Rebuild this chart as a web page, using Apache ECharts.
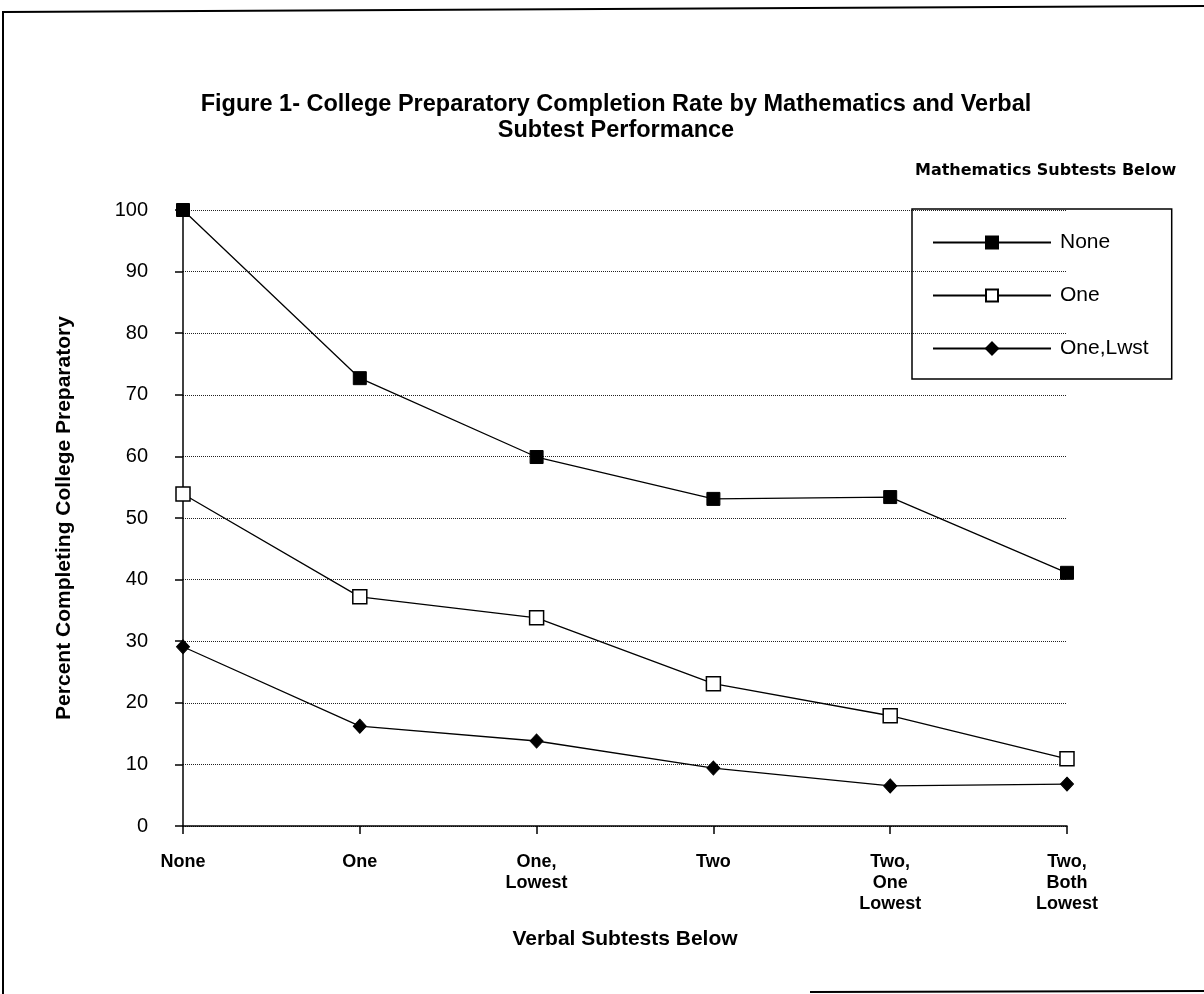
<!DOCTYPE html>
<html lang="en">
<head>
    <meta charset="UTF-8">
    <title>Figure 1</title>
    <script src="https://cdn.jsdelivr.net/npm/echarts@6/dist/echarts.min.js"></script>
    <style>
        html, body { margin: 0; padding: 0; background: #fff; }
    </style>
</head>
<body>
<div id="main" style="width: 1204px; height: 994px"></div>
</body>
<script>
    // categories along the x axis (verbal subtests below)
    let categories = ['None', 'One', 'One,\nLowest', 'Two', 'Two,\nOne\nLowest', 'Two,\nBoth\nLowest'];
    // series = mathematics subtests below
    let seriesNames = ['None', 'One', 'One,Lwst'];
    let mathNone = [100, 72.7, 59.9, 53.1, 53.4, 41.1];
    let mathOne = [53.9, 37.2, 33.8, 23.1, 17.9, 10.9];
    let mathOneLwst = [29.1, 16.2, 13.8, 9.4, 6.5, 6.8];
    let yTicks = [0, 10, 20, 30, 40, 50, 60, 70, 80, 90, 100];

    let font = 'Arial, "Liberation Sans", sans-serif';
    let myChart = echarts.init(document.getElementById('main'));

    let option = {
        backgroundColor: '#fff',
        animation: false,
        textStyle: { fontFamily: font, color: '#000' },
        title: {
            text: 'Figure 1- College Preparatory Completion Rate by Mathematics and Verbal\nSubtest Performance',
            left: 611,
            top: 87,
            textAlign: 'center',
            textStyle: { fontSize: 23.5, fontWeight: 'bold', lineHeight: 26, fontFamily: font, color: '#000' }
        },
        graphic: [
            { // scanned page frame: top, left and a piece of the bottom
                type: 'polyline',
                shape: { points: [[1204, 6], [3, 12], [3, 994]] },
                style: { fill: 'none', stroke: '#000', lineWidth: 2 }
            },
            {
                type: 'line',
                shape: { x1: 810, y1: 992, x2: 1204, y2: 991 },
                style: { stroke: '#000', lineWidth: 2 }
            },
            {
                type: 'text',
                left: 915,
                top: 163,
                style: { text: 'Mathematics Subtests Below', font: 'bold 16px "DejaVu Sans", sans-serif', fill: '#000' }
            }
        ],
        legend: {
            orient: 'vertical',
            left: 912,
            top: 209,
            data: seriesNames,
            itemWidth: 118,
            itemHeight: 15,
            itemGap: 32,
            padding: [23, 23, 20, 20],
            borderColor: '#000',
            borderWidth: 1.5,
            textStyle: { fontSize: 21, fontFamily: font, color: '#000', padding: [0, 0, 0, 4] }
        },
        grid: { left: 183, right: 137, top: 210, bottom: 168 },
        xAxis: {
            type: 'category',
            data: categories,
            boundaryGap: false,
            name: 'Verbal Subtests Below',
            nameLocation: 'middle',
            nameGap: 103,
            nameTextStyle: { fontSize: 21, fontWeight: 'bold', fontFamily: font, color: '#000' },
            axisLine: { lineStyle: { color: '#000', width: 1.5 } },
            axisTick: { alignWithLabel: true, length: 8, lineStyle: { color: '#000', width: 1.5 } },
            axisLabel: {
                margin: 26,
                fontSize: 18,
                fontWeight: 'bold',
                lineHeight: 21,
                color: '#000',
                fontFamily: font,
                verticalAlign: 'top'
            },
            splitLine: { show: false }
        },
        yAxis: {
            type: 'value',
            min: 0,
            max: 100,
            interval: 10,
            name: 'Percent Completing College Preparatory',
            nameLocation: 'middle',
            nameGap: 108,
            nameTextStyle: { fontSize: 21, fontWeight: 'bold', fontFamily: font, color: '#000' },
            axisLine: { show: true, lineStyle: { color: '#000', width: 1.5 } },
            axisTick: { show: true, length: 8, lineStyle: { color: '#000', width: 1.5 } },
            axisLabel: {
                margin: 35,
                fontSize: 20,
                color: '#000',
                fontFamily: font,
                formatter: function (v) { return yTicks.indexOf(v) >= 0 ? String(v) : ''; }
            },
            splitLine: { lineStyle: { color: '#222', type: 'dotted', width: 1 } }
        },
        series: [
            {
                name: seriesNames[0],
                type: 'line',
                data: mathNone,
                symbol: 'rect',
                symbolSize: 13,
                lineStyle: { color: '#000', width: 1.3 },
                itemStyle: { color: '#000', borderColor: '#000', borderWidth: 1 }
            },
            {
                name: seriesNames[1],
                type: 'line',
                data: mathOne,
                symbol: 'rect',
                symbolSize: 14,
                lineStyle: { color: '#000', width: 1.3 },
                itemStyle: { color: '#fff', borderColor: '#000', borderWidth: 1.5 }
            },
            {
                name: seriesNames[2],
                type: 'line',
                data: mathOneLwst,
                symbol: 'diamond',
                symbolSize: [13, 14],
                lineStyle: { color: '#000', width: 1.3 },
                itemStyle: { color: '#000', borderColor: '#000', borderWidth: 1 }
            }
        ]
    };
    myChart.setOption(option);
</script>
</html>
